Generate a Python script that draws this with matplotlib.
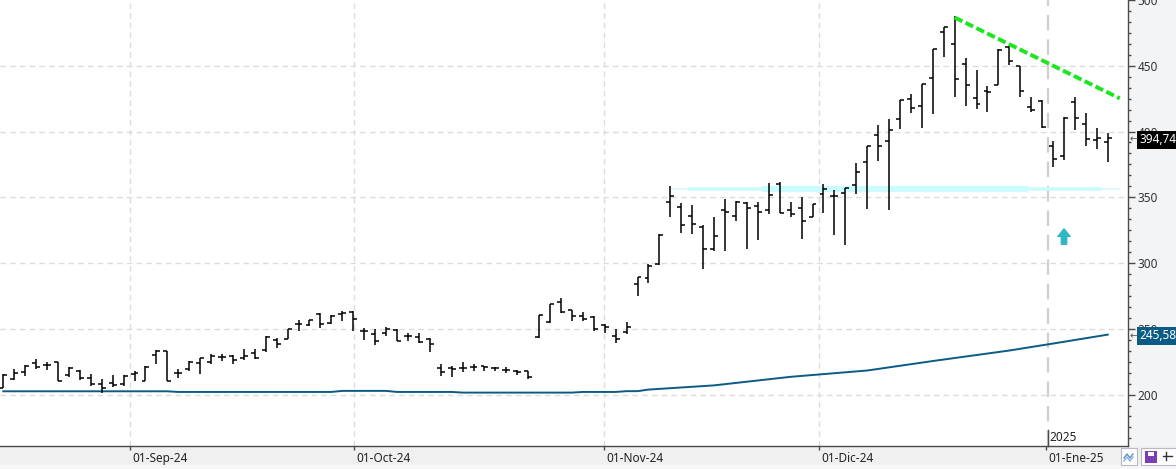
import numpy as np
import matplotlib
matplotlib.use("Agg")
import matplotlib.pyplot as plt
import matplotlib.transforms as mtransforms
from matplotlib.ticker import FixedLocator
from matplotlib.patches import Rectangle
from matplotlib.lines import Line2D

plt.rcParams['font.family'] = ['Noto Sans', 'DejaVu Sans']

# ---------------- data (daily OHLC bars, index = trading day) ----------------
opens = [205.3, 212.1, 217.3, 224.1, 222.6, 224.9, 215.1, 218.1, 212.8, 208.3,
         209.1, 208.3, 215.8, 210.6, 230.1, 233.1, 216.6, 219.6, 224.1, 224.9,
         228.6, 229.4, 227.9, 231.6, 233.7, 241.2, 242.0, 254.0, 252.7, 261.2,
         254.5, 261.2, 262.7, 248.2, 245.7, 246.9, 249.0, 244.4, 243.7, 242.0,
         220.1, 220.1, 219.9, 221.1, 221.6, 220.1, 218.6, 217.6, 217.6, 243.7,
         255.2, 270.3, 264.0, 259.5, 258.8, 253.2, 244.4, 247.5, 284.1, 288.3,
         299.2, 346.1, 342.3, 336.1, 327.3, 310.5, 340.3, 335.6, 345.4, 343.6,
         340.6, 360.4, 340.6, 341.6, 335.3, 352.3, 351.1, 353.1, 359.4, 376.7,
         397.5, 392.6, 409.4, 424.4, 419.7, 441.0, 475.4, 466.6, 451.5, 425.2,
         431.0, 435.7, 464.5, 449.5, 418.4, 423.4, 389.2, 381.3, 422.7, 405.6,
         393.3, 392.3]
highs = [215.8, 219.6, 222.6, 227.1, 224.9, 224.9, 221.1, 218.9, 215.8, 212.1,
         215.1, 215.1, 218.1, 221.9, 233.9, 233.1, 219.6, 225.6, 227.9, 230.9,
         230.9, 230.1, 234.6, 234.6, 244.5, 243.2, 249.5, 257.0, 257.0, 262.0,
         260.2, 263.8, 263.8, 250.5, 249.5, 251.2, 249.5, 246.9, 246.9, 242.7,
         223.1, 221.9, 224.4, 223.1, 221.9, 221.1, 220.6, 218.6, 218.1, 260.8,
         269.1, 273.8, 264.5, 262.7, 259.5, 253.7, 249.5, 255.2, 289.6, 298.9,
         322.2, 358.7, 345.6, 344.4, 329.3, 335.3, 348.6, 346.9, 346.6, 346.6,
         361.2, 361.7, 346.6, 349.9, 344.8, 359.9, 355.6, 357.4, 376.2, 389.2,
         405.1, 409.4, 423.9, 428.9, 436.5, 462.8, 479.2, 487.9, 456.0, 447.0,
         434.4, 462.8, 465.3, 449.5, 426.4, 423.9, 392.6, 410.9, 426.4, 413.9,
         402.6, 398.8]
lows = [205.3, 211.3, 214.4, 219.6, 218.9, 210.6, 213.6, 211.3, 206.3, 201.5,
        206.0, 206.8, 210.6, 210.6, 223.4, 210.6, 212.8, 218.1, 215.8, 223.4,
        225.6, 223.4, 226.4, 227.1, 232.0, 235.6, 242.0, 248.7, 252.0, 250.7,
        254.0, 255.7, 248.2, 241.2, 237.7, 244.4, 240.7, 240.7, 238.9, 232.4,
        214.3, 213.1, 216.8, 218.1, 218.1, 218.1, 216.1, 214.8, 211.8, 243.2,
        254.5, 262.0, 255.7, 255.7, 248.7, 246.9, 239.4, 245.7, 274.6, 284.6,
        298.4, 335.3, 323.0, 322.2, 295.1, 309.2, 309.2, 332.3, 310.5, 317.3,
        337.3, 338.0, 335.3, 318.0, 335.3, 338.0, 321.0, 313.5, 352.4, 341.1,
        377.5, 340.6, 401.8, 414.4, 402.6, 413.3, 457.0, 425.9, 419.4, 416.9,
        414.8, 435.2, 450.2, 425.9, 415.2, 402.6, 373.2, 378.7, 401.3, 389.2,
        387.0, 376.7]
closes = [215.1, 216.6, 221.9, 221.1, 222.6, 210.6, 220.4, 212.8, 208.3, 205.3,
          207.6, 214.3, 216.6, 221.1, 233.1, 210.6, 216.6, 224.9, 227.9, 229.4,
          228.6, 226.4, 229.4, 227.9, 243.7, 238.2, 249.5, 254.0, 256.5, 254.0,
          259.5, 262.0, 257.8, 248.2, 240.7, 249.5, 240.7, 244.4, 240.2, 238.7,
          217.3, 219.4, 219.9, 221.1, 220.6, 220.1, 218.6, 217.3, 213.1, 260.8,
          269.1, 262.5, 259.5, 257.8, 249.5, 251.2, 242.0, 251.2, 289.1, 297.9,
          321.0, 350.6, 328.6, 329.8, 310.5, 320.5, 338.6, 346.1, 341.6, 339.1,
          351.9, 338.0, 337.3, 332.3, 344.8, 356.1, 351.1, 357.4, 369.2, 388.8,
          389.2, 400.8, 423.9, 418.2, 435.9, 462.8, 479.2, 439.7, 435.7, 420.9,
          430.2, 462.3, 453.6, 431.0, 416.4, 403.3, 379.2, 410.6, 410.6, 394.3,
          395.1, 394.74]

# moving average (read at selected bars)
ma_idx = [0, 15, 16, 30, 31, 35, 36, 41, 42, 52, 53, 56, 57, 58, 59,
          65, 72, 79, 85, 92, 96, 101]
ma_val = [202.5, 202.5, 202.0, 202.0, 202.8, 202.8, 202.0, 202.0, 201.5, 201.5,
          202.0, 202.0, 202.6, 202.6, 203.8, 207.0, 213.5, 218.3, 225.5, 233.5,
          238.8, 245.58]

month_pos = [11.59, 32.07, 54.93, 74.6, 95.36]
month_labels = ['01-Sep-24', '01-Oct-24', '01-Nov-24', '01-Dic-24', '01-Ene-25']
year_pos = 95.49
year_label = '2025'

support_level = 356.3
trend_x = [87.0, 102.1]
trend_y = [486.7, 425.2]
signal_idx = 97.0
signal_price = [314.3, 326.0]

last_close = 394.74
last_close_label = '394,74'
ma_last = 245.58
ma_last_label = '245,58'

y_labels = [200, 250, 300, 350, 400, 450, 500]

# ---------------- figure ----------------
W, H = 1176, 469
fig = plt.figure(figsize=(W / 100, H / 100), dpi=100, facecolor='#f0f0f0')
ax_l, ax_b = 0.0, 23 / H
ax_w, ax_h = 1128 / W, 446 / H
fig.patches.append(Rectangle((1128 / W, ax_b), 48 / W, ax_h, transform=fig.transFigure,
                             facecolor='#f3f4f6', edgecolor='none', zorder=-5))
fig.patches.append(Rectangle((0, 0), 1, 4 / H, transform=fig.transFigure,
                             facecolor='#f7f7f7', edgecolor='none', zorder=-5))
ax = fig.add_axes([ax_l, ax_b, ax_w, ax_h], facecolor='white')
ax.set_zorder(1)

n = len(opens)
x = np.arange(n)
ax.set_xlim(-0.30, 102.85)
ax.set_ylim(160.9, 496.7)

# grid
for yv in y_labels[:-1]:
    ax.axhline(yv, color='#dcdcdc', lw=1.0, ls=(0, (4, 3)), zorder=0)
for xv in month_pos[:-1]:
    ax.axvline(xv, color='#dcdcdc', lw=1.0, ls=(0, (4, 3)), zorder=0)
ax.axvline(year_pos, color='#cfcfcf', lw=1.6, ls=(0, (7, 4)), zorder=0)

# support band
ax.hlines(support_level, 61.0, 102.1, color='#d2fbfd', lw=1.2, zorder=1)
ax.hlines(support_level, 62.6, 100.5, color='#ccfbfd', lw=2.6, zorder=1)
ax.hlines(support_level, 69.4, 93.7, color='#ccfbfd', lw=4.4, zorder=1)

# moving average
ax.plot(ma_idx, ma_val, color='#0b5b85', lw=1.4, zorder=2)

# OHLC bars
ax.vlines(x, lows, highs, color='black', lw=1.1, zorder=3)
ax.hlines(opens, x - 0.36, x, color='black', lw=1.1, zorder=3)
ax.hlines(closes, x, x + 0.36, color='black', lw=1.1, zorder=3)

# trend line
ax.plot(trend_x, trend_y, color='#1ee61e', lw=2.8, ls=(0, (2.2, 0.9)),
        solid_capstyle='butt', dash_capstyle='butt', zorder=4)

# signal arrow
ax.annotate('', xy=(signal_idx, signal_price[1]), xytext=(signal_idx, signal_price[0]),
            arrowprops=dict(arrowstyle='simple,head_length=0.5,head_width=0.8,tail_width=0.35',
                            mutation_scale=11, color='#2fb7c6', shrinkA=0, shrinkB=0),
            zorder=4)

# axes styling
for s in ['left', 'top']:
    ax.spines[s].set_visible(False)
ax.spines['right'].set_color('#4a4a4a')
ax.spines['bottom'].set_color('#4a4a4a')
ax.spines['right'].set_linewidth(1.0)
ax.spines['bottom'].set_linewidth(1.0)

ax.yaxis.tick_right()
ax.set_yticks(y_labels)
ax.set_yticklabels([str(v) for v in y_labels])
ax.yaxis.set_minor_locator(FixedLocator(np.arange(150, 505, 50 / 6)))
ax.tick_params(axis='y', which='major', length=5, width=1, color='#4a4a4a',
               labelsize=8.5, labelcolor='#333333', pad=2)
ax.tick_params(axis='y', which='minor', length=2.5, width=1, color='#4a4a4a')

ax.set_xticks(month_pos)
ax.set_xticklabels(month_labels)
ax.tick_params(axis='x', which='major', length=3, width=1, color='#4a4a4a',
               labelsize=8.5, labelcolor='#222222', pad=1.5)
off = mtransforms.ScaledTranslation(2 / 100, 0, fig.dpi_scale_trans)
for lbl in ax.get_xticklabels():
    lbl.set_ha('left')
    lbl.set_transform(lbl.get_transform() + off)

# year marker
bt = mtransforms.blended_transform_factory(ax.transData, ax.transAxes)
ax.plot([year_pos, year_pos], [0, 16 / 446], color='#4a4a4a', lw=1.0,
        transform=bt, zorder=5, clip_on=False)
ax.text(year_pos + 0.15, 9 / 446, year_label, transform=bt, fontsize=8.5,
        color='#222222', ha='left', va='center', zorder=5)

# price labels on right axis
rt = mtransforms.blended_transform_factory(ax.transAxes, ax.transData)
ax.text(1.0105, last_close - 1.0, last_close_label, transform=rt, fontsize=8.5,
        color='white', ha='left', va='center', clip_on=False, zorder=10,
        bbox=dict(boxstyle='square,pad=0.22', fc='black', ec='none'))
ax.text(1.0105, ma_last - 1.0, ma_last_label, transform=rt, fontsize=8.5,
        color='white', ha='left', va='center', clip_on=False, zorder=10,
        bbox=dict(boxstyle='square,pad=0.22', fc='#0b5b85', ec='none'))
for yv in [last_close - 1.0, ma_last - 1.0]:
    ax.text(1.0012, yv, '\u2190', transform=rt, fontsize=7, color='#555555',
            ha='left', va='center', clip_on=False, zorder=10,
            family=['DejaVu Sans'])

# bottom-right toolbar icons
def fx(px):
    return px / W

def fy(py):
    return 1 - py / H

fig.patches.append(Rectangle((fx(1121), fy(465)), 16 / W, 17 / H, transform=fig.transFigure,
                             facecolor='white', edgecolor='#b8b8c8', lw=0.8, zorder=5))
fig.lines.append(Line2D([fx(1124), fx(1127), fx(1130), fx(1133)],
                        [fy(458), fy(454), fy(458), fy(454)], transform=fig.transFigure,
                        color='#5a8fd0', lw=1.0, zorder=6))
fig.lines.append(Line2D([fx(1124), fx(1127), fx(1130), fx(1133)],
                        [fy(461), fy(457), fy(461), fy(457)], transform=fig.transFigure,
                        color='#8ab0e0', lw=1.0, zorder=6))
fig.patches.append(Rectangle((fx(1141), fy(465)), 35 / W, 17 / H, transform=fig.transFigure,
                             facecolor='white', edgecolor='#b8b8c8', lw=0.8, zorder=5))
fig.patches.append(Rectangle((fx(1145), fy(463)), 12 / W, 12 / H, transform=fig.transFigure,
                             facecolor='#7b3fb5', edgecolor='none', zorder=6))
fig.patches.append(Rectangle((fx(1148), fy(456)), 6 / W, 4 / H, transform=fig.transFigure,
                             facecolor='white', edgecolor='none', zorder=7))
fig.lines.append(Line2D([fx(1163), fx(1172)], [fy(456), fy(456)], transform=fig.transFigure,
                        color='#333333', lw=1.0, zorder=6))
fig.lines.append(Line2D([fx(1166), fx(1166)], [fy(452), fy(460)], transform=fig.transFigure,
                        color='#333333', lw=1.0, zorder=6))

fig.savefig('out.png', dpi=100, facecolor=fig.get_facecolor())
